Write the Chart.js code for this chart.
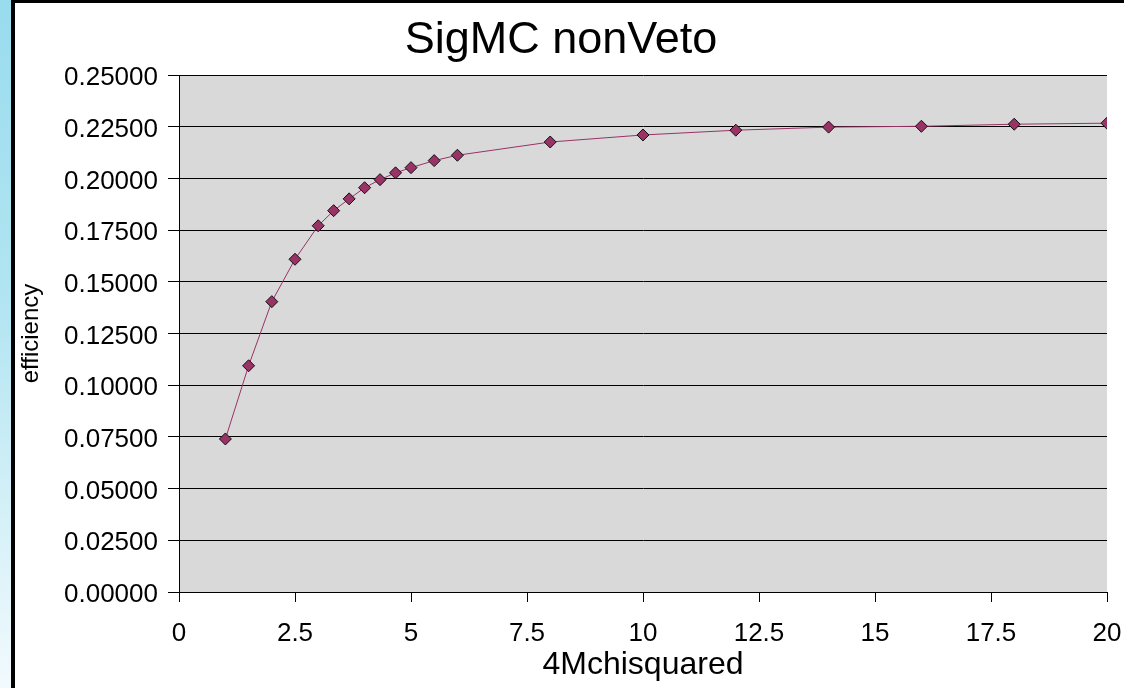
<!DOCTYPE html>
<html lang="en">
<head>
  <meta charset="UTF-8">
  <title>SigMC nonVeto</title>
  <script src="https://cdn.jsdelivr.net/npm/chart.js"></script>
  <style>
    html, body { margin: 0; padding: 0; background: #fff; }
    body { width: 1124px; height: 688px; position: relative; overflow: hidden; }
    .strip {
      position: absolute; left: 0; top: 0; width: 11px; height: 688px;
      background: linear-gradient(to bottom, #98dcee 0%, #b3e5f2 45%, #f2fafd 100%);
    }
    .frame {
      position: absolute; left: 11px; top: 0; width: 1113px; height: 688px;
      box-sizing: border-box; border-left: 4px solid #000; border-top: 3px solid #000;
    }
    .wrap { position: absolute; left: 15px; top: 3px; width: 1109px; height: 685px; }
  </style>
</head>
<body>
  <div class="strip"></div>
  <div class="frame"></div>
  <div class="wrap"><canvas id="effChart"></canvas></div>

  <script>
    // chi-squared cut vs. signal efficiency
    const chiCut = [1, 1.5, 2, 2.5, 3, 3.333, 3.667, 4, 4.333, 4.667, 5, 5.5, 6, 8, 10, 12, 14, 16, 18, 20];
    const efficiency = [0.0740, 0.1094, 0.1404, 0.1609, 0.1771, 0.1844, 0.1901, 0.1955, 0.1994, 0.2027,
                        0.2052, 0.2086, 0.2112, 0.2176, 0.2210, 0.2233, 0.2248, 0.2252, 0.2262, 0.2267];
    const xTicks = [0, 2.5, 5, 7.5, 10, 12.5, 15, 17.5, 20];
    const yTicks = [0, 0.025, 0.05, 0.075, 0.1, 0.125, 0.15, 0.175, 0.2, 0.225, 0.25];

    const FONT = "'Liberation Sans', Arial, Helvetica, sans-serif";

    // grey plot background
    const plotBg = {
      id: 'plotBg',
      beforeDraw(chart) {
        const a = chart.chartArea;
        const ctx = chart.ctx;
        ctx.save();
        ctx.fillStyle = '#d9d9d9';
        ctx.fillRect(a.left, a.top, a.right - a.left, a.bottom - a.top);
        ctx.restore();
      }
    };

    const points = chiCut.map((x, i) => ({ x: x, y: efficiency[i] }));

    new Chart(document.getElementById('effChart'), {
      type: 'line',
      data: {
        datasets: [{
          data: points,
          borderColor: '#993366',
          borderWidth: 1,
          backgroundColor: '#993366',
          pointStyle: 'rectRot',
          pointRadius: 6,
          pointHoverRadius: 6,
          pointBorderColor: '#111',
          pointBorderWidth: 1,
          tension: 0
        }]
      },
      options: {
        responsive: true,
        maintainAspectRatio: false,
        animation: false,
        events: [],
        layout: { padding: { left: 0, right: 17, top: 0, bottom: 0 } },
        plugins: {
          legend: { display: false },
          tooltip: { enabled: false },
          title: {
            display: true,
            text: 'SigMC nonVeto',
            color: '#000',
            font: { family: FONT, size: 45, weight: 'normal' },
            padding: { top: 11, bottom: 7 }
          }
        },
        scales: {
          x: {
            type: 'linear',
            min: 0,
            max: 20,
            afterFit(scale) {
              scale.height = 96;
              // the layout padding already leaves room for the end labels
              scale.paddingLeft = 0;
              scale.paddingRight = 0;
            },
            afterBuildTicks(scale) { scale.ticks = xTicks.map(v => ({ value: v })); },
            ticks: {
              color: '#000',
              font: { family: FONT, size: 26 },
              padding: 16,
              maxRotation: 0,
              autoSkip: false
            },
            grid: { drawOnChartArea: false, drawTicks: true, tickLength: 10, color: '#000' },
            border: { color: '#000', width: 1 },
            title: {
              display: true,
              text: '4Mchisquared',
              color: '#000',
              font: { family: FONT, size: 32 },
              padding: { top: 0, bottom: 4 }
            }
          },
          y: {
            min: 0,
            max: 0.25,
            afterFit(scale) { scale.width = 164; },
            afterBuildTicks(scale) { scale.ticks = yTicks.map(v => ({ value: v })); },
            ticks: {
              color: '#000',
              font: { family: FONT, size: 26 },
              padding: 10,
              labelOffset: 3,
              callback: v => v.toFixed(5)
            },
            grid: { color: '#000', lineWidth: 1, drawTicks: true, tickLength: 11 },
            border: { color: '#000', width: 1 },
            title: {
              display: true,
              text: 'efficiency',
              color: '#000',
              font: { family: FONT, size: 24 },
              padding: { top: 2, bottom: 0 }
            }
          }
        }
      },
      plugins: [plotBg]
    });
  </script>
</body>
</html>
